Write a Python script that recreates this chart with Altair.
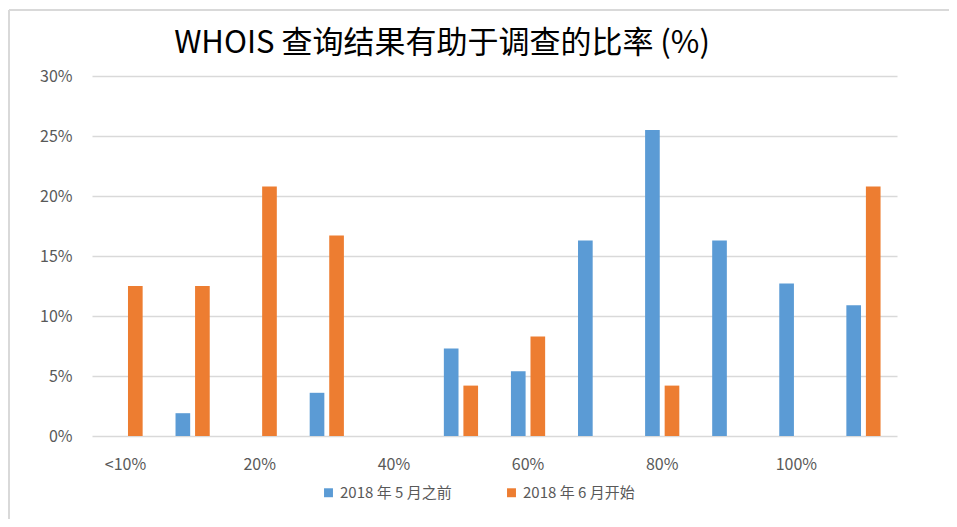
import altair as alt
import pandas as pd

categories = ["<10%", "10%", "20%", "30%", "40%", "50%", "60%", "70%", "80%", "90%", "100%", ">100%"]
tick_labels = ["<10%", "20%", "40%", "60%", "80%", "100%"]
series_names = ["2018 年 5 月之前", "2018 年 6 月开始"]
before_may = [0, 1.9, 0, 3.6, 0, 7.3, 5.4, 16.3, 25.5, 16.3, 12.7, 10.9]
since_june = [12.5, 12.5, 20.8, 16.7, 0, 4.2, 8.3, 0, 4.2, 0, 0, 20.8]
colors = ["#5B9BD5", "#ED7D31"]
y_ticks = [0, 5, 10, 15, 20, 25, 30]
title_text = "WHOIS 查询结果有助于调查的比率 (%)"

rows = []
for i, c in enumerate(categories):
    rows.append({"cat": c, "series": series_names[0], "value": before_may[i]})
    rows.append({"cat": c, "series": series_names[1], "value": since_june[i]})
df = pd.DataFrame(rows)

font = "Noto Sans CJK SC"
label_color = "#595959"

bars = alt.Chart(df).mark_bar().encode(
    x=alt.X(
        "cat:N", sort=categories,
        scale=alt.Scale(paddingInner=0.49, paddingOuter=0.245),
        axis=alt.Axis(values=tick_labels, title=None, labelAngle=0, ticks=False, domain=False,
                      labelPadding=20, labelFontSize=16, labelColor=label_color, labelFont=font, grid=False),
    ),
    xOffset=alt.XOffset("series:N", sort=series_names, scale=alt.Scale(paddingInner=0.25)),
    y=alt.Y(
        "value:Q", scale=alt.Scale(domain=[0, 30]),
        axis=alt.Axis(values=y_ticks, labelExpr="datum.value + '%'", title=None, ticks=False, domain=False,
                      labelPadding=20, labelFontSize=16, labelColor=label_color, labelFont=font,
                      gridColor="#d9d9d9", gridWidth=1.5),
    ),
    color=alt.Color(
        "series:N", sort=series_names,
        scale=alt.Scale(domain=series_names, range=colors),
        legend=alt.Legend(title=None, orient="none", legendX=229, legendY=409, direction="horizontal",
                          symbolType="square", symbolSize=80, symbolStrokeWidth=0, labelFontSize=15,
                          labelFont=font, labelColor=label_color, labelOffset=4, columnPadding=52),
    ),
)

title_data = alt.Data(values=[{"t": title_text}])
title_mark = alt.Chart(title_data).mark_text(
    font=font, fontSize=31, color="#000000", align="center", baseline="middle"
).encode(text="t:N", x=alt.value(350), y=alt.value(-32))

border_data = alt.Data(values=[{"k": 1}])
left_border = alt.Chart(border_data).mark_rule(color="#d9d9d9", strokeWidth=2).encode(
    x=alt.value(-83), y=alt.value(-66), y2=alt.value(520)
)
top_border = alt.Chart(border_data).mark_rule(color="#d9d9d9", strokeWidth=2).encode(
    x=alt.value(-83), x2=alt.value(900), y=alt.value(-66)
)

chart = alt.layer(bars, title_mark, left_border, top_border).properties(
    width=805,
    height=360,
    autosize=alt.AutoSizeParams(type="none"),
    padding={"left": 84, "top": 68, "right": 52, "bottom": 83},
).configure_view(strokeWidth=0)

chart.save("out.html", embed_options={"renderer": "svg", "actions": False})
